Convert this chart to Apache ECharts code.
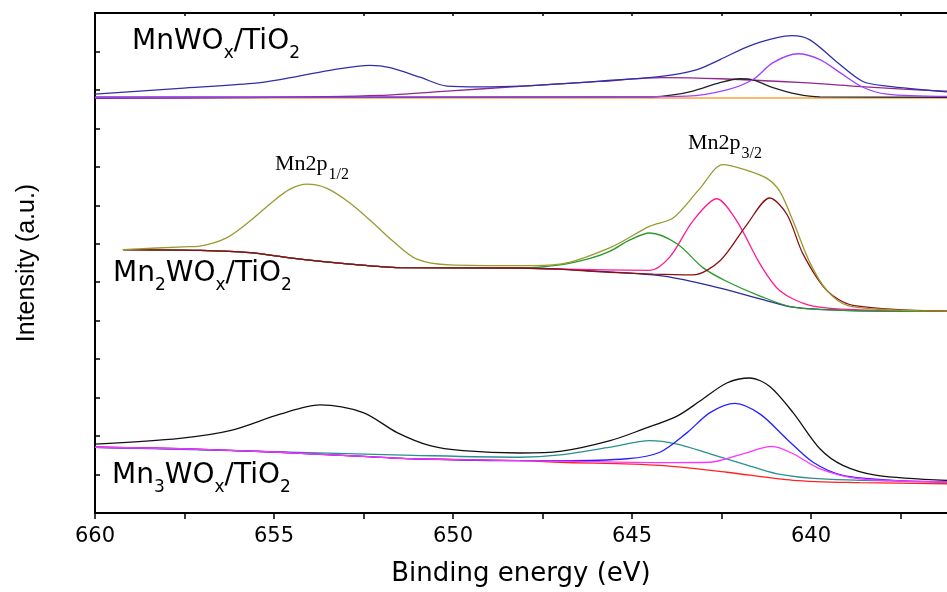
<!DOCTYPE html>
<html>
<head>
<meta charset="utf-8">
<script src="https://cdn.jsdelivr.net/npm/echarts@6/dist/echarts.min.js"></script>
<style>
html,body{margin:0;padding:0;background:#fff;}
#chart{width:947px;height:592px;}
</style>
</head>
<body>
<div id="chart"></div>
<script>
// ---- Data: [binding energy (eV), intensity (a.u.)] ----
// MnWOx/TiO2 (top)
const topEnvelope = [[660.00,10.89],[657.63,11.04],[655.59,11.17],[654.83,11.27],[653.44,11.51],[652.32,11.64],[651.76,11.58],[650.92,11.33],[650.17,11.10],[649.25,11.08],[648.13,11.10],[645.89,11.23],[644.13,11.36],[643.18,11.53],[642.54,11.79],[641.62,12.18],[640.53,12.41],[640.03,12.30],[639.27,11.72],[638.55,11.22],[637.88,11.10],[636.20,10.95]];
const topViolet = [[660,10.81],[647.01,10.82],[643.46,10.84],[642.35,11.00],[641.62,11.27],[641.06,11.71],[640.36,11.94],[639.75,11.79],[639.19,11.45],[638.55,11.07],[637.88,10.89],[636.20,10.83]];
const topBlack = [[660,10.81],[644.41,10.82],[643.85,10.87],[643.30,10.97],[642.54,11.19],[641.98,11.29],[641.62,11.26],[641.06,11.06],[640.39,10.89],[639.75,10.82],[636.20,10.81]];
const topBroad = [[660,10.78],[655.67,10.80],[652.04,10.86],[650.17,10.97],[648.13,11.09],[645.89,11.22],[644.13,11.32],[642.54,11.29],[640.22,11.19],[638.83,11.10],[637.43,11.02],[636.20,10.97]];
const topBaseline = [[660,10.79],[636.20,10.79]];

// Mn2WOx/TiO2 (middle)
const midEnvelope = [[659.22,6.85],[657.54,6.92],[657.07,6.94],[656.31,7.16],[655.67,7.59],[655.03,8.10],[654.55,8.42],[654.08,8.55],[653.52,8.44],[652.88,8.06],[652.23,7.54],[651.68,7.07],[651.01,6.60],[650.08,6.45],[648.13,6.43],[647.01,6.47],[645.61,6.90],[644.50,7.46],[643.85,7.67],[643.10,8.44],[642.46,9.06],[641.79,8.91],[641.23,8.70],[640.87,8.36],[640.50,7.59],[640.03,6.51],[639.55,5.78],[638.99,5.40],[637.71,5.28],[636.20,5.25]];
const midBaseLeft = [[659.22,6.85],[657.07,6.83],[655.67,6.77],[654.27,6.60],[652.88,6.47],[651.48,6.38],[648.13,6.37]];
const midBackgroundRight = [[647.01,6.34],[644.22,6.17],[642.82,5.91],[641.42,5.57],[640.50,5.35],[639.11,5.27],[636.20,5.24]];
const midGreenRight = [[647.01,6.45],[646.17,6.62],[645.61,6.81],[645.06,7.10],[644.50,7.28],[643.74,7.00],[643.02,6.38],[642.35,6.02],[641.42,5.64],[640.50,5.35],[639.11,5.27],[636.20,5.24]];
const midPinkRight = [[647.01,6.34],[644.50,6.31],[643.94,6.66],[643.30,7.59],[642.63,8.17],[642.07,7.59],[641.42,6.47],[640.87,5.78],[640.03,5.40],[638.63,5.28],[636.20,5.25]];
const midRedRight = [[647.01,6.34],[645.89,6.27],[644.41,6.21],[643.30,6.19],[642.54,6.56],[641.79,7.50],[641.15,8.19],[640.67,7.76],[640.22,6.73],[639.55,5.78],[638.83,5.40],[636.20,5.25]];

// Mn3WOx/TiO2 (bottom)
const botEnvelope = [[660.00,1.79],[657.63,1.94],[656.23,2.14],[654.83,2.57],[653.72,2.81],[652.51,2.61],[651.56,2.09],[650.64,1.75],[649.72,1.62],[648.13,1.56],[647.01,1.60],[645.61,1.88],[644.69,2.18],[643.74,2.52],[643.10,2.91],[642.35,3.38],[641.70,3.51],[641.15,3.29],[640.50,2.61],[639.75,1.67],[639.11,1.24],[638.16,0.98],[636.20,0.85]];
const botBaseLeft = [[660,1.71],[657.63,1.67],[654.83,1.58],[652.51,1.47],[651.12,1.41],[648.13,1.36]];
const botBackgroundRight = [[647.01,1.32],[644.22,1.24],[642.35,1.06],[640.50,0.85],[638.63,0.79],[636.20,0.76]];
const botBlueRight = [[647.01,1.36],[645.14,1.41],[644.22,1.58],[643.46,2.09],[642.82,2.61],[642.12,2.85],[641.42,2.57],[640.67,1.92],[639.94,1.32],[639.11,0.98],[637.71,0.85],[636.20,0.81]];
const botTeal = [[660,1.71],[654.83,1.59],[651.12,1.50],[648.13,1.45],[647.01,1.51],[645.61,1.71],[644.50,1.88],[643.74,1.79],[642.82,1.54],[641.90,1.28],[640.95,1.02],[639.55,0.88],[636.20,0.81]];
const botMagentaRight = [[647.01,1.35],[644.22,1.31],[642.82,1.32],[641.90,1.54],[641.09,1.73],[640.50,1.54],[639.75,1.15],[638.63,0.89],[636.20,0.81]];

const xTickLabels = [660, 655, 650, 645, 640];
const xTicks = [660, 657.5, 655, 652.5, 650, 647.5, 645, 642.5, 640, 637.5];
const xMin = 636.2, xMax = 660;

// ---- Chart ----
const chart = echarts.init(document.getElementById('chart'), null, {renderer: 'canvas'});

function line(data, color, z) {
  return {
    type: 'line', data: data, showSymbol: false, smooth: 0.3,
    lineStyle: {color: color, width: 1.3}, itemStyle: {color: color}, z: z, silent: true
  };
}

const sampleRich = {
  a: {fontFamily: 'DejaVu Sans', fontSize: 28, lineHeight: 34, verticalAlign: 'top', color: '#000'},
  s: {fontFamily: 'DejaVu Sans', fontSize: 17, lineHeight: 20, verticalAlign: 'top', padding: [17, 0, 0, 0], color: '#000'}
};
const serifRich = {
  a: {fontFamily: 'Liberation Serif', fontSize: 22, lineHeight: 26, verticalAlign: 'top', color: '#000'},
  s: {fontFamily: 'Liberation Serif', fontSize: 16, lineHeight: 17, verticalAlign: 'top', padding: [13, 0, 0, 1], color: '#000'}
};

function label(x, y, text, rich) {
  return {type: 'text', x: x, y: y, silent: true,
    style: {text: text, rich: rich, fill: '#000', align: 'left', verticalAlign: 'top'}};
}

const option = {
  animation: false,
  backgroundColor: '#fff',
  grid: {left: 95, top: 13, right: 0, bottom: 74, containLabel: false},
  xAxis: [{
    type: 'value', min: xMin, max: xMax, inverse: true, position: 'bottom',
    axisLine: {show: true, onZero: false, lineStyle: {color: '#000', width: 2}},
    axisTick: {show: true, inside: false, length: 6, customValues: xTicks, lineStyle: {color: '#000', width: 1.5}},
    axisLabel: {margin: 13, color: '#000', fontFamily: 'DejaVu Sans', fontSize: 21, customValues: xTickLabels},
    splitLine: {show: false},
    name: 'Binding energy (eV)', nameLocation: 'middle', nameGap: 48,
    nameTextStyle: {fontFamily: 'DejaVu Sans', fontSize: 26, color: '#000'}
  }, {
    type: 'value', min: xMin, max: xMax, inverse: true, position: 'top',
    axisLine: {show: true, onZero: false, lineStyle: {color: '#000', width: 2}},
    axisTick: {show: true, inside: true, length: 3, customValues: xTicks, lineStyle: {color: '#000', width: 1.5}},
    axisLabel: {show: false}, splitLine: {show: false}
  }],
  yAxis: [{
    type: 'value', min: 0, max: 13, interval: 1,
    axisLine: {show: true, onZero: false, lineStyle: {color: '#000', width: 2}},
    axisTick: {show: true, inside: true, length: 5, lineStyle: {color: '#000', width: 1.5}},
    axisLabel: {show: false}, splitLine: {show: false},
    name: 'Intensity (a.u.)', nameLocation: 'middle', nameGap: 55,
    nameTextStyle: {fontFamily: 'Liberation Sans', fontSize: 25, color: '#000'}
  }],
  series: [
    line(topBaseline, '#ffa040', 2),
    line(topBroad, '#902890', 3),
    line(topBlack, '#222222', 4),
    line(topViolet, '#a040ff', 5),
    line(topEnvelope, '#2f2fa8', 6),

    line(midBaseLeft.concat(midBackgroundRight), '#2a2a9a', 2),
    line(midBaseLeft.concat(midPinkRight), '#ff1a90', 3),
    line(midBaseLeft.concat(midGreenRight), '#2a9a2a', 4),
    line(midBaseLeft.concat(midRedRight), '#8b1010', 5),
    line(midEnvelope, '#9a9a30', 6),

    line(botBaseLeft.concat(botBackgroundRight), '#ff2222', 2),
    line(botTeal, '#279090', 3),
    line(botBaseLeft.concat(botBlueRight), '#2222ff', 4),
    line(botBaseLeft.concat(botMagentaRight), '#ff33ff', 5),
    line(botEnvelope, '#111111', 6)
  ],
  graphic: [
    label(132, 27.7, '{a|MnWO}{s|x}{a|/TiO}{s|2}', sampleRich),
    label(113, 259.7, '{a|Mn}{s|2}{a|WO}{s|x}{a|/TiO}{s|2}', sampleRich),
    label(112, 461.7, '{a|Mn}{s|3}{a|WO}{s|x}{a|/TiO}{s|2}', sampleRich),
    label(275, 153.3, '{a|Mn2p}{s|1/2}', serifRich),
    label(688, 132.3, '{a|Mn2p}{s|3/2}', serifRich)
  ]
};
chart.setOption(option);
</script>
</body>
</html>
